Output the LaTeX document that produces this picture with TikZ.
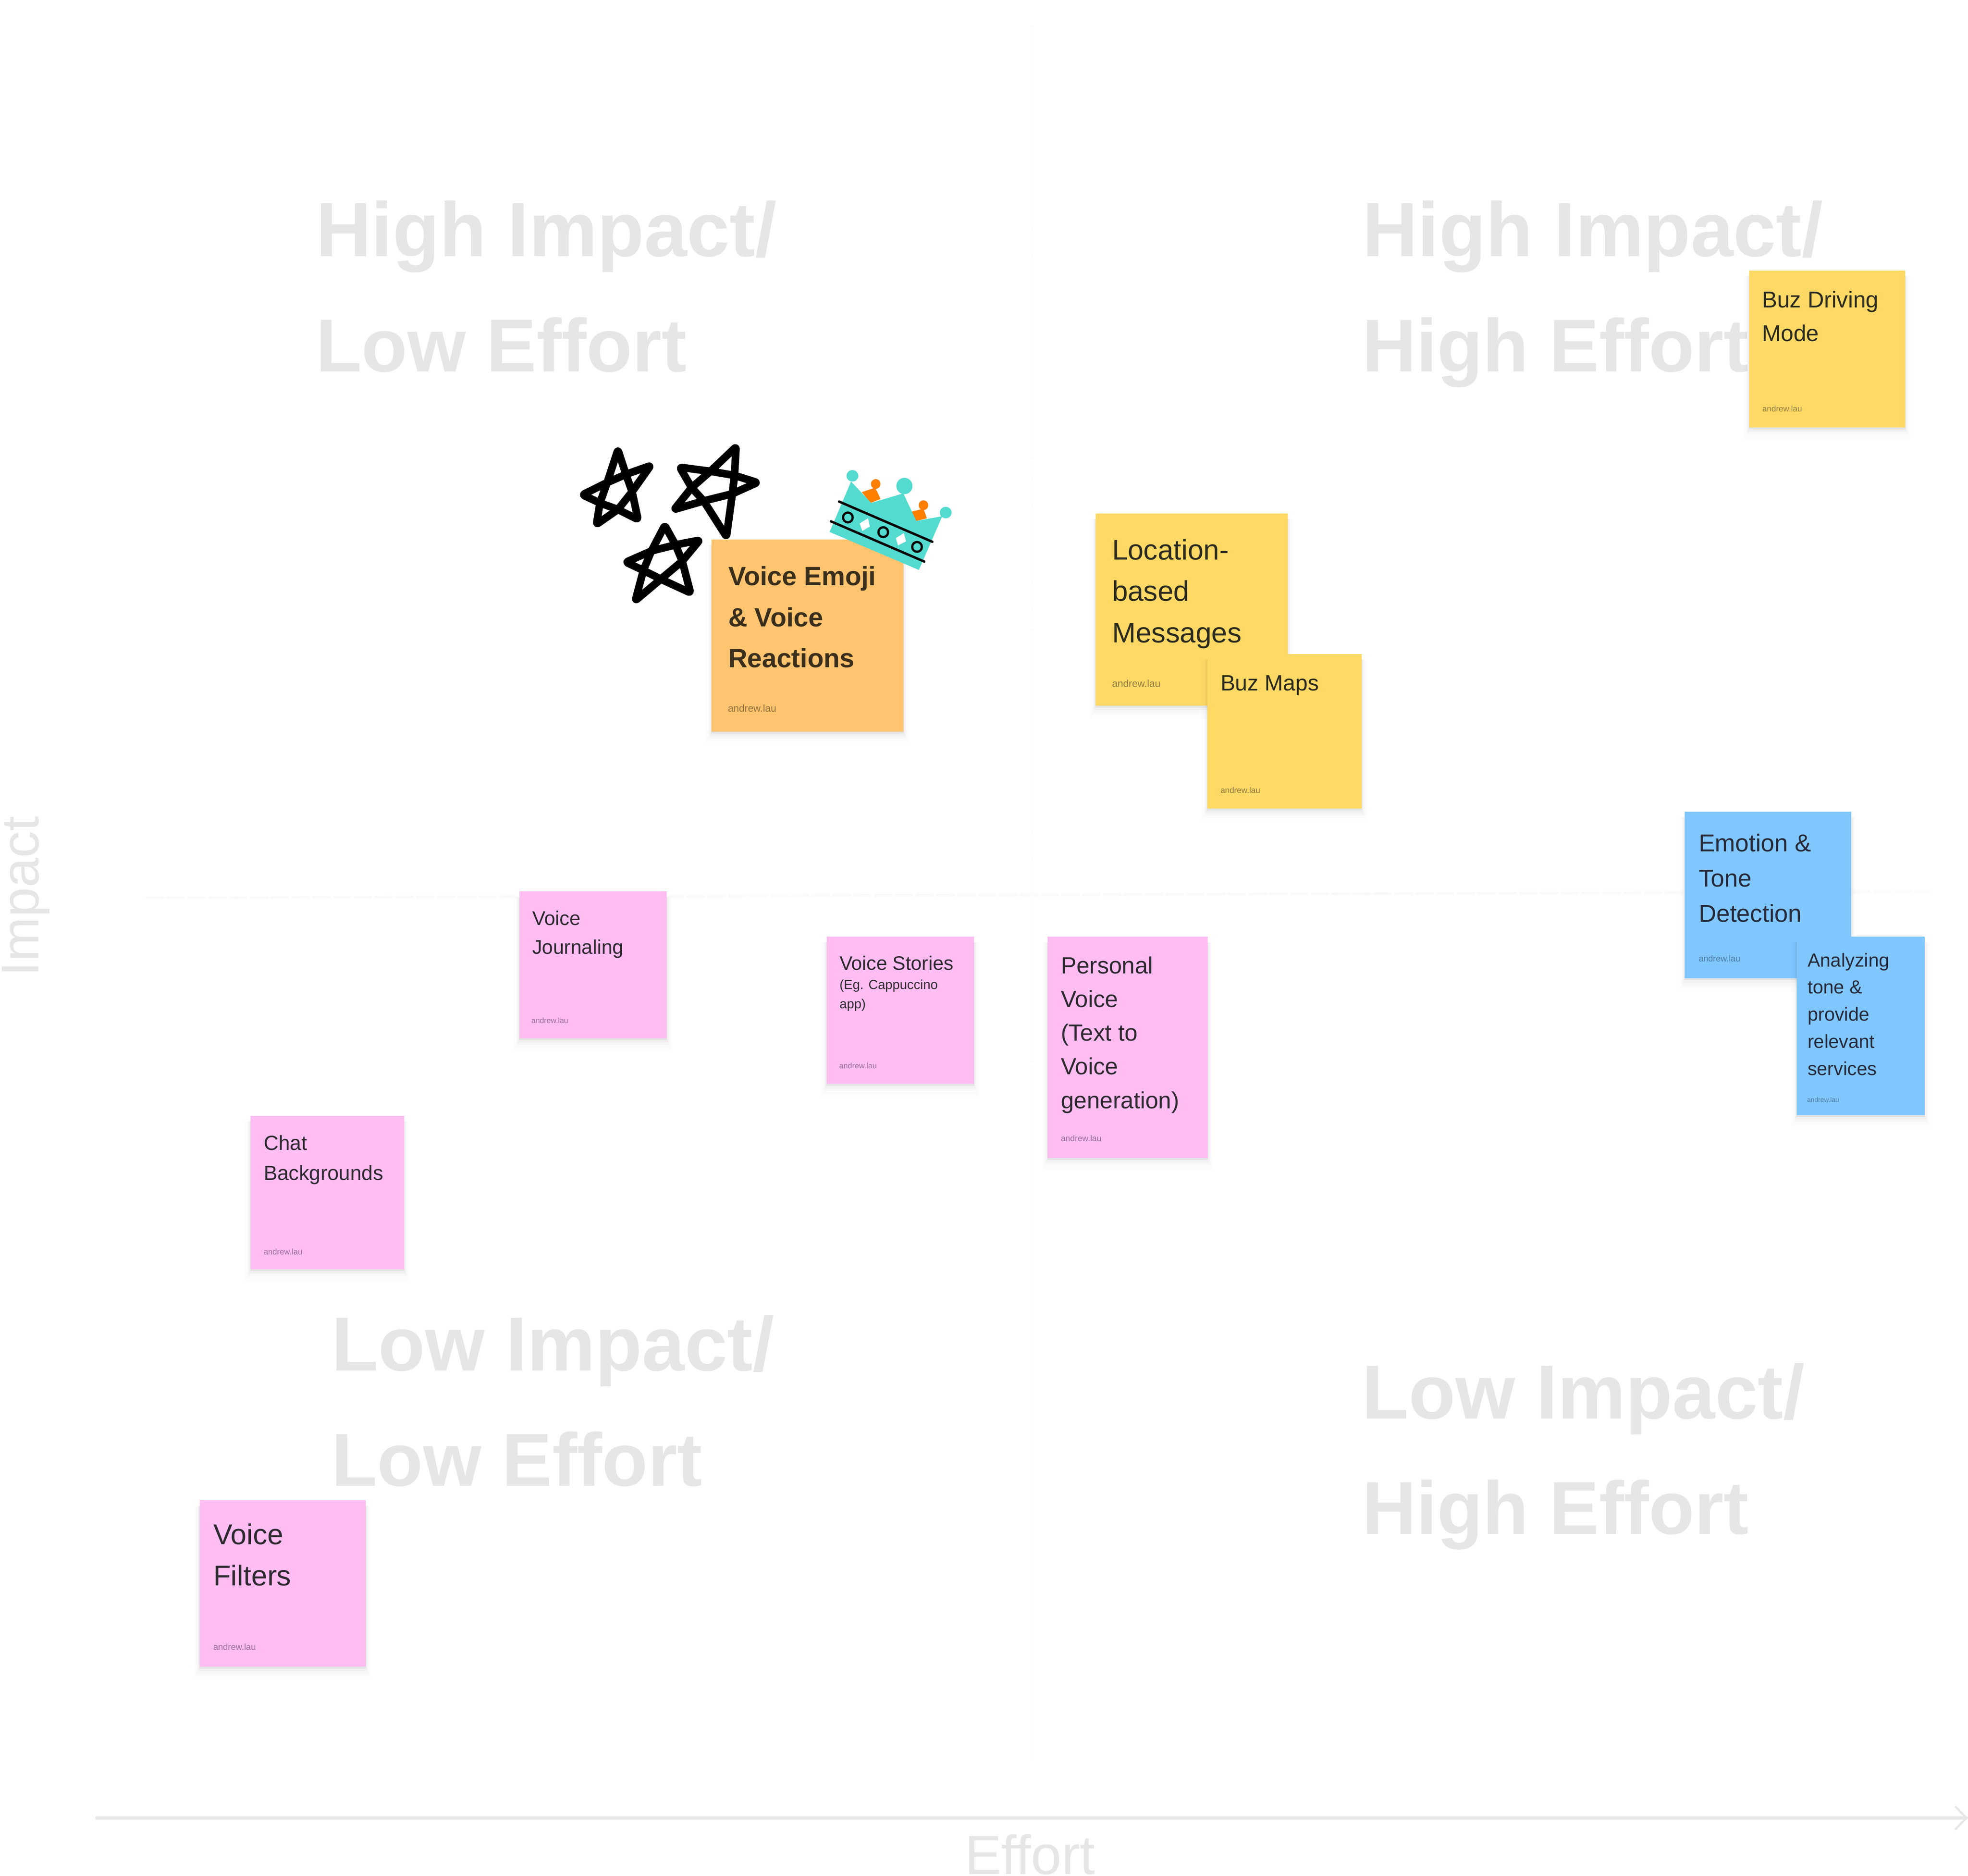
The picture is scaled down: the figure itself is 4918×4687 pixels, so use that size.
\documentclass[tikz,border=0pt]{standalone}
\usepackage{fontspec}
\setmainfont{Liberation Sans}
\definecolor{ghost}{HTML}{E6E6E6}
\definecolor{ntyellow}{HTML}{FFD966}
\definecolor{ntorange}{HTML}{FFC470}
\definecolor{ntblue}{HTML}{80C7FF}
\definecolor{ntpink}{HTML}{FFBDF2}
\definecolor{crownc}{HTML}{53DBD0}
\definecolor{crowno}{HTML}{FF7F00}
\definecolor{txy}{HTML}{2B2A1E}
\definecolor{txo}{HTML}{3A2F1C}
\definecolor{txb}{HTML}{262A3A}
\definecolor{txp}{HTML}{2E2A30}
\definecolor{auy}{HTML}{8F7A3F}
\definecolor{auo}{HTML}{93743F}
\definecolor{aub}{HTML}{4C7BA0}
\definecolor{aup}{HTML}{99709A}
\newcommand{\notebox}[6]{%
  \foreach \gx/\gy/\o in {14/32/.006,10/24/.009,7/17/.014,4/11/.022,1/5/.05}{
    \fill[black,fill opacity=\o] (#2-\gx,#3+14) rectangle (#4+\gx,#5+\gy);
  }
  \path[fill=#6] (#2,#3) rectangle (#4,#5) node[pos=.5,inner sep=0pt] (#1) {};}
\newcommand{\notetext}[7]{% name x y size pitch colour text
  \node[notetxt,text=#6] (#1) at (#2,#3) {\parbox[t]{170pt}{\raggedright\fontsize{#4}{#5}\selectfont #7}};}
\tikzset{
  notetxt/.style={anchor=base west,inner sep=0pt,outer sep=0pt},
  ghostlab/.style={anchor=base west,inner sep=0pt,text=ghost,font=\fontsize{#1}{44}\selectfont\bfseries},
  starline/.style={draw=black,line width=3.8pt,line join=round,line cap=round,rounded corners=1.2pt},
  faintdash/.style={draw=black!2,line width=1.4pt,dash pattern=on 8pt off 2.4pt,line cap=round},
  faintdashv/.style={draw=black!0.8,line width=1.4pt,dash pattern=on 8pt off 2.4pt,line cap=round},
}
\begin{document}
\begin{tikzpicture}[x=0.2pt,y=-0.2pt]
\useasboundingbox (0,0) rectangle (4918,4687);
\fill[white] (0,0) rectangle (4918,4687);
% faint cross
\coordinate (hl) at (367,2243); \coordinate (hr) at (4822,2228);
\coordinate (vt) at (2578,65); \coordinate (vb) at (2578,4390);
\draw[faintdash] (hl) -- (hr);
\draw[faintdashv] (vt) -- (vb);
% ghost labels
\node[ghostlab=38.4] (gha) at (788,641) {High Impact/};
\node[ghostlab=37.5] (ghb) at (788,929) {Low Effort};
\node[ghostlab=38.4] (gra) at (3403,641) {High Impact/};
\node[ghostlab=37.4] (grb) at (3403,929) {High Effort};
\node[ghostlab=38.3] (gla) at (827,3424) {Low Impact/};
\node[ghostlab=37.5] (glb) at (827,3712) {Low Effort};
\node[ghostlab=38.3] (gma) at (3402,3544) {Low Impact/};
\node[ghostlab=37.4] (gmb) at (3403,3832) {High Effort};
% axis
\coordinate (axl) at (242,4542); \coordinate (axr) at (4914,4542);
\coordinate (axa) at (4886,4513); \coordinate (axb) at (4886,4571);
\draw[ghost,line width=1.6pt,line cap=round] (axl) -- (axr);
\draw[ghost,line width=1pt,line join=round] (axa) -- (axr) -- (axb);
\node[anchor=base west,inner sep=0pt,text=ghost,font=\fontsize{27.5}{30}\selectfont] (xlab) at (2410,4682) {Effort};
\node[anchor=base west,inner sep=0pt,text=ghost,font=\fontsize{26.6}{30}\selectfont,rotate=90] (ylab) at (96,2440) {Impact};
% notes
\notebox{nbd}{4371}{676}{4761}{1068}{ntyellow}
\notetext{tbd}{4403}{769}{11.4}{16.8}{txy}{Buz Driving\\Mode}
\notetext{abd}{4404}{1029}{4.1}{5}{auy}{andrew.lau}
\notebox{nloc}{2738}{1283}{3218}{1763}{ntyellow}
\notetext{tloc}{2779}{1399}{14.2}{20.6}{txy}{Location-\\based\\Messages}
\notetext{aloc}{2779}{1716}{5}{6}{auy}{andrew.lau}
\notebox{nmap}{3017}{1634}{3403}{2020}{ntyellow}
\notetext{tmap}{3050}{1725}{11.05}{16}{txy}{Buz Maps}
\notetext{amap}{3050}{1981}{4.1}{5}{auy}{andrew.lau}
\notebox{nemo}{4210}{2028}{4626}{2444}{ntblue}
\notetext{temo}{4245}{2127}{12.2}{17.6}{txb}{Emotion \&\\Tone\\Detection}
\notetext{aemo}{4245}{2402}{4.3}{5}{aub}{andrew.lau}
\notebox{nana}{4490}{2340}{4810}{2786}{ntblue}
\notetext{tana}{4517}{2415}{9.45}{13.55}{txb}{Analyzing\\tone \&\\provide\\relevant\\services}
\notetext{aana}{4516}{2753}{3.3}{4}{aub}{andrew.lau}
\notebox{nsto}{2066}{2340}{2434}{2708}{ntpink}
\notetext{tsto}{2098}{2423}{9.75}{12}{txp}{Voice Stories}
\notetext{ssto}{2098}{2471}{6.56}{9.7}{txp}{(Eg. Cappuccino\\app)}
\notetext{asto}{2097}{2669}{3.9}{5}{aup}{andrew.lau}
\notebox{nper}{2618}{2340}{3018}{2893}{ntpink}
\notetext{tper}{2651}{2432}{11.7}{16.85}{txp}{Personal\\Voice\\(Text to\\Voice\\generation)}
\notetext{aper}{2651}{2851}{4.2}{5}{aup}{andrew.lau}
\notebox{njou}{1298}{2227}{1666}{2594}{ntpink}
\notetext{tjou}{1330}{2311}{9.9}{14.4}{txp}{Voice\\Journaling}
\notetext{ajou}{1328}{2556}{3.8}{5}{aup}{andrew.lau}
\notebox{ncha}{626}{2788}{1010}{3171}{ntpink}
\notetext{tcha}{659}{2873}{10.25}{15}{txp}{Chat\\Backgrounds}
\notetext{acha}{659}{3134}{4}{5}{aup}{andrew.lau}
\notebox{nfil}{499}{3748}{914}{4164}{ntpink}
\notetext{tfil}{533}{3858}{14.3}{20.6}{txp}{Voice\\Filters}
\notetext{afil}{533}{4122}{4.4}{5}{aup}{andrew.lau}
\notebox{nemj}{1778}{1348}{2258}{1828}{ntorange}
\notetext{temj}{1820}{1463}{13.2}{20.4}{txo}{\bfseries Voice Emoji\\\& Voice\\Reactions}
\notetext{aemj}{1819}{1778}{5}{6}{auo}{andrew.lau}
% stars and crown, in a local frame
\begin{scope}[shift={(1380,1050)},x=0.13396pt,y=-0.10204pt]
\draw[starline] (245,145) -- (275,265) -- (298,350) -- (320,486) -- (245,437) -- (178,405) -- (113,365) -- (205,305) -- (275,265) -- (367,222) -- (298,350) -- (245,437) -- (165,510) -- (178,405) -- (205,305) -- cycle;
\draw[starline] (686,130) -- (680,270) -- (672,360) -- (650,570) -- (565,395) -- (520,330) -- (476,230) -- (590,250) -- (680,270) -- (765,305) -- (672,360) -- (565,395) -- (455,437) -- (520,330) -- (590,250) -- cycle;
\draw[starline] (420,515) -- (460,610) -- (485,690) -- (516,845) -- (405,778) -- (340,735) -- (275,695) -- (370,640) -- (460,610) -- (550,587) -- (485,690) -- (405,778) -- (310,883) -- (340,735) -- (370,640) -- cycle;
% crown
\fill[crowno] (1155,352) -- (1205,330) -- (1225,385) -- (1188,405) -- cycle;
\fill[crowno] (1207,312) ellipse [x radius=18,y radius=24];
\fill[crowno] (1340,448) -- (1385,433) -- (1398,480) -- (1358,493) -- cycle;
\fill[crowno] (1385,416) ellipse [x radius=18,y radius=24];
\fill[crownc] (1115,300) -- (1190,405) -- (1310,358) -- (1358,493) -- (1455,470) -- (1368,733) -- (1035,547) -- cycle;
\fill[crownc] (1120,272) ellipse [x radius=22,y radius=28];
\fill[crownc] (1314,322) ellipse [x radius=30,y radius=40];
\fill[crownc] (1468,452) ellipse [x radius=22,y radius=28];
\draw[black,line width=1.2pt,line cap=round] (1070,398) -- (1418,595);
\draw[black,line width=1.2pt,line cap=round] (1040,495) -- (1388,692);
\foreach \c in {(1103,476),(1235,548),(1361,620)}{
  \draw[black,line width=1.1pt] \c ellipse [x radius=18,y radius=24];
}
\fill[white] (1147,505) -- (1178,480) -- (1185,520) -- (1157,542) -- cycle;
\fill[white] (1282,577) -- (1312,553) -- (1320,593) -- (1290,613) -- cycle;
\end{scope}
\end{tikzpicture}
\end{document}
